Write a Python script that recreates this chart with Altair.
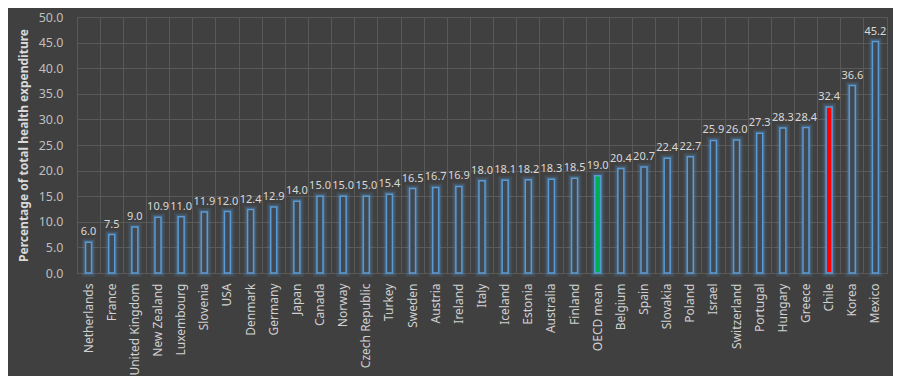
import altair as alt
import pandas as pd

countries = ["Netherlands", "France", "United Kingdom", "New Zealand", "Luxembourg",
             "Slovenia", "USA", "Denmark", "Germany", "Japan", "Canada", "Norway",
             "Czech Republic", "Turkey", "Sweden", "Austria", "Ireland", "Italy",
             "Iceland", "Estonia", "Australia", "Finland", "OECD mean", "Belgium",
             "Spain", "Slovakia", "Poland", "Israel", "Switzerland", "Portugal",
             "Hungary", "Greece", "Chile", "Korea", "Mexico"]
values = [6.0, 7.5, 9.0, 10.9, 11.0, 11.9, 12.0, 12.4, 12.9, 14.0, 15.0, 15.0,
          15.0, 15.4, 16.5, 16.7, 16.9, 18.0, 18.1, 18.2, 18.3, 18.5, 19.0, 20.4,
          20.7, 22.4, 22.7, 25.9, 26.0, 27.3, 28.3, 28.4, 32.4, 36.6, 45.2]
groups = ["country"] * len(countries)
groups[countries.index("OECD mean")] = "mean"
groups[countries.index("Chile")] = "chile"

df = pd.DataFrame({"Country": countries, "Value": values, "Group": groups})

BG = "#404040"
GRID = "#595959"
BLUE = "#5B9BD5"
FONT = "Noto Sans"

x_enc = alt.X(
    "Country:N", sort=None, title=None,
    scale=alt.Scale(paddingInner=0, paddingOuter=0),
    axis=alt.Axis(labelAngle=-90, labelAlign="right", labelBaseline="middle",
                  labelPadding=10, labelColor="#D0D0D0", labelFontSize=12,
                  labelFont=FONT, ticks=False, domain=False, grid=True,
                  bandPosition=0, gridColor=GRID, gridWidth=1, labelLimit=200),
)
y_enc = alt.Y(
    "Value:Q", title="Percentage of total health expenditure",
    scale=alt.Scale(domain=[0, 50], nice=False),
    axis=alt.Axis(values=list(range(0, 55, 5)), format=".1f", labelColor="#BFBFBF",
                  labelFontSize=12.5, labelFont=FONT, labelPadding=14, ticks=False,
                  domain=False, gridColor=GRID, gridWidth=1,
                  titleColor="#D9D9D9", titleFontSize=12, titleFont=FONT,
                  titleFontWeight="bold", titlePadding=8),
)

base = alt.Chart(df).encode(x=x_enc, y=y_enc)

glow1 = base.mark_bar(size=6, fillOpacity=0, stroke=BLUE, strokeWidth=8, strokeOpacity=0.12)
glow2 = base.mark_bar(size=6, fillOpacity=0, stroke=BLUE, strokeWidth=4.5, strokeOpacity=0.22)
bars = base.mark_bar(size=6, stroke=BLUE, strokeWidth=1.5).encode(
    fill=alt.Fill("Group:N", legend=None,
                  scale=alt.Scale(domain=["country", "mean", "chile"],
                                  range=["#414850", "#00B050", "#FF0000"]))
)
labels = base.mark_text(dy=-10, fontSize=11, font=FONT, color="#D9D9D9").encode(
    text=alt.Text("Value:Q", format=".1f")
)

chart = alt.layer(glow1, glow2, bars, labels).properties(
    width=810, height=256, background=BG,
    autosize=alt.AutoSizeParams(type="none"),
    padding={"left": 69, "top": 9, "right": 6, "bottom": 103},
).configure_view(stroke=GRID, strokeWidth=1)

chart.save("out.html", embed_options={"renderer": "svg", "actions": False})
